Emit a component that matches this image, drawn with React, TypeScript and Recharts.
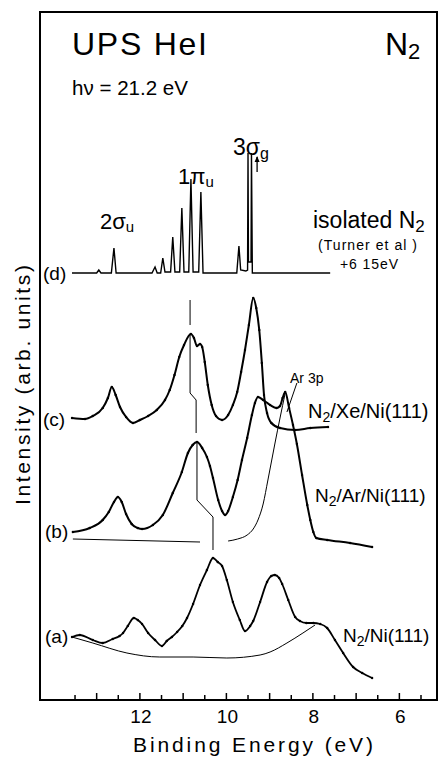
import React from "react";
import { LineChart, Line, XAxis, YAxis, ReferenceArea } from "recharts";

const FONT = "'Liberation Sans', Arial, sans-serif";

// binding energy axis (eV), drawn high -> low
const X_DOMAIN: [number, number] = [5.13, 14.31];
const TICKS = [13.5, 13, 12.5, 12, 11.5, 11, 10.5, 10, 9.5, 9, 8.5, 8, 7.5, 7, 6.5, 6, 5.5];
const TICK_LABELS = [12, 10, 8, 6];

// [binding energy eV, intensity arb. units]
const specD: [number, number][] = [
  [13.57, 427], [13.0, 427], [12.95, 430], [12.9, 427], [12.66, 427], [12.6, 452], [12.55, 427],
  [11.72, 427], [11.65, 433], [11.6, 427], [11.52, 427], [11.47, 442], [11.42, 428], [11.29, 428],
  [11.24, 463], [11.19, 428], [11.08, 428], [11.03, 492], [10.98, 428], [10.87, 428], [10.82, 521],
  [10.77, 428], [10.64, 428], [10.59, 508], [10.54, 427], [9.76, 427], [9.71, 454], [9.67, 430],
  [9.55, 429], [9.51, 430], [9.5, 547], [9.49, 438], [9.43, 438], [9.42, 547], [9.4, 427], [7.6, 427],
];

const specC: [number, number][] = [
  [13.57, 282], [13.27, 281], [13.09, 284], [12.86, 292], [12.74, 302], [12.65, 313], [12.56, 305],
  [12.46, 293], [12.32, 283], [12.16, 277], [12.0, 280], [11.81, 284], [11.61, 290], [11.42, 300],
  [11.31, 310], [11.2, 325], [11.09, 343], [10.98, 355], [10.82, 366], [10.75, 362], [10.68, 354],
  [10.61, 356], [10.56, 353], [10.5, 338], [10.43, 315], [10.34, 295], [10.24, 284], [10.1, 280],
  [9.96, 285], [9.85, 295], [9.75, 308], [9.66, 328], [9.57, 350], [9.48, 375], [9.38, 402],
  [9.31, 392], [9.24, 370], [9.18, 337], [9.13, 305], [9.06, 287], [8.96, 277], [8.76, 272],
  [8.41, 270], [8.06, 272], [7.65, 273],
];

const specB: [number, number][] = [
  [13.55, 168], [13.16, 172], [12.86, 180], [12.72, 188], [12.6, 198], [12.51, 203], [12.42, 198],
  [12.32, 186], [12.19, 176], [12.05, 172], [11.95, 171], [11.7, 175], [11.47, 185], [11.24, 207],
  [11.03, 228], [10.89, 247], [10.78, 255], [10.68, 258], [10.56, 252], [10.45, 243], [10.38, 234],
  [10.31, 222], [10.19, 200], [10.1, 189], [10.03, 185], [9.96, 189], [9.85, 203], [9.74, 220],
  [9.64, 240], [9.52, 262], [9.41, 285], [9.34, 297], [9.27, 303], [9.15, 300], [8.99, 295],
  [8.84, 292], [8.76, 294], [8.7, 302], [8.64, 308], [8.55, 292], [8.46, 275], [8.37, 256],
  [8.25, 225], [8.13, 195], [8.06, 180], [7.99, 168], [7.92, 162], [7.67, 160], [7.14, 157], [6.63, 153],
];

const specA: [number, number][] = [
  [13.57, 63], [13.39, 65], [13.09, 60], [12.86, 57], [12.63, 61], [12.47, 64], [12.39, 67],
  [12.28, 74], [12.14, 82], [12.05, 80], [11.95, 76], [11.81, 67], [11.65, 60], [11.49, 54],
  [11.38, 59], [11.26, 63], [11.14, 68], [11.02, 74], [10.91, 82], [10.77, 96], [10.61, 115],
  [10.45, 130], [10.31, 142], [10.2, 138], [10.1, 134], [9.99, 120], [9.85, 98], [9.69, 80],
  [9.57, 69], [9.45, 74], [9.38, 79], [9.22, 98], [9.06, 118], [8.96, 124], [8.88, 125], [8.78, 122],
  [8.71, 116], [8.57, 100], [8.41, 83], [8.3, 79], [8.15, 77], [7.99, 77], [7.83, 76], [7.67, 72],
  [7.49, 60], [7.3, 47], [7.07, 33], [6.86, 27], [6.63, 22],
];

// thin guide curves
const baseB: [number, number][] = [[13.55, 161], [10.61, 158]];
const ar3p: [number, number][] = [
  [9.96, 159], [9.74, 161], [9.52, 165], [9.38, 171], [9.27, 180], [9.15, 196], [9.04, 220],
  [8.96, 238], [8.88, 256], [8.76, 282], [8.64, 307],
];
const baseA: [number, number][] = [
  [13.57, 63], [13.09, 57], [12.3, 47], [11.54, 43], [10.77, 43], [9.99, 42], [9.22, 45],
  [8.99, 48], [8.6, 57], [8.23, 67], [7.95, 75],
];
const tieLine: [number, number | null][] = [
  [10.84, 400], [10.84, 375], [10.84, null],
  [10.84, 366], [10.84, 307], [10.7, 300], [10.7, 267], [10.69, null],
  [10.68, 257], [10.68, 200], [10.31, 183], [10.31, 150],
];
const arPointer: [number, number][] = [[8.37, 317], [8.6, 288]];
const sigmaArrow: [number, number][] = [[9.29, 528], [9.29, 543]];

const toRows = (pts: [number, number | null][]) => pts.map(([e, i]) => ({ e, i }));

function EnergyTick(props: any) {
  const { x, y, payload } = props;
  const v = payload.value as number;
  const major = Math.abs(v - Math.round(v)) < 1e-6;
  return (
    <g>
      <line x1={x} x2={x} y1={y} y2={y - (major ? 7 : 5)} stroke="#000" strokeWidth={1.5} />
      {TICK_LABELS.includes(v) && (
        <text x={x + 1} y={y + 23} textAnchor="middle" fontSize={19} fontFamily={FONT} fill="#000">
          {v}
        </text>
      )}
    </g>
  );
}

function ArrowHead(props: any) {
  const { cx, cy, index } = props;
  if (index !== 1) return <g key={index} />;
  return <path key={index} d={`M${cx - 2.5},${cy + 5} L${cx},${cy - 1} L${cx + 2.5},${cy + 5} Z`} fill="#000" />;
}

const dotStyle = { r: 1.2, fill: "#000", stroke: "none" };

export default function App() {
  const sub = (t: string, size = 15, dy = 5) => (
    <tspan fontSize={size} dy={dy}>{t}</tspan>
  );
  return (
    <div style={{ position: "absolute", left: 0, top: 0, width: 438, height: 759, background: "#fff" }}>
      <LineChart width={438} height={759} margin={{ top: 12, right: 1, bottom: 0, left: 40 }}>
        <XAxis
          type="number"
          dataKey="e"
          domain={X_DOMAIN}
          reversed
          ticks={TICKS}
          interval={0}
          tick={(p: any) => <EnergyTick {...p} />}
          tickSize={0}
          tickMargin={0}
          tickLine={false}
          axisLine={false}
          height={59}
          allowDataOverflow
        />
        <YAxis type="number" domain={[0, 688]} hide allowDataOverflow />
        <ReferenceArea x1={X_DOMAIN[0]} x2={X_DOMAIN[1]} y1={0} y2={688} fill="none" stroke="#000" strokeWidth={2} ifOverflow="visible" />
        <Line data={toRows(specD)} dataKey="i" type="linear" stroke="#000" strokeWidth={1.4} dot={false} isAnimationActive={false} />
        <Line data={toRows(specC)} dataKey="i" type="monotone" stroke="#000" strokeWidth={2} dot={dotStyle} isAnimationActive={false} />
        <Line data={toRows(specB)} dataKey="i" type="monotone" stroke="#000" strokeWidth={2} dot={dotStyle} isAnimationActive={false} />
        <Line data={toRows(specA)} dataKey="i" type="monotone" stroke="#000" strokeWidth={1.8} dot={dotStyle} isAnimationActive={false} />
        <Line data={toRows(baseB)} dataKey="i" type="linear" stroke="#000" strokeWidth={1} dot={false} isAnimationActive={false} />
        <Line data={toRows(ar3p)} dataKey="i" type="monotone" stroke="#000" strokeWidth={1} dot={false} isAnimationActive={false} />
        <Line data={toRows(baseA)} dataKey="i" type="monotone" stroke="#000" strokeWidth={1} dot={false} isAnimationActive={false} />
        <Line data={toRows(tieLine)} dataKey="i" type="linear" stroke="#000" strokeWidth={1} dot={false} isAnimationActive={false} />
        <Line data={toRows(arPointer)} dataKey="i" type="linear" stroke="#000" strokeWidth={1} dot={false} isAnimationActive={false} />
        <Line data={toRows(sigmaArrow)} dataKey="i" type="linear" stroke="#000" strokeWidth={1.3} dot={(p: any) => <ArrowHead {...p} />} isAnimationActive={false} />
      </LineChart>
      <svg width={438} height={759} style={{ position: "absolute", left: 0, top: 0, pointerEvents: "none" }} fontFamily={FONT} fill="#000">
        <text x={72} y={55} fontSize={32} textLength={135} lengthAdjust="spacing">UPS HeI</text>
        <text x={385} y={55} fontSize={32}>N{sub("2", 22, 4)}</text>
        <text x={72} y={95} fontSize={20} textLength={116} lengthAdjust="spacingAndGlyphs">hν = 21.2 eV</text>
        <text x={233} y={155} fontSize={23}>3σ{sub("g", 16, 4)}</text>
        <text x={178} y={184} fontSize={22}>1π{sub("u", 15, 3)}</text>
        <text x={100} y={229} fontSize={22}>2σ{sub("u", 15, 3)}</text>
        <text x={313} y={228} fontSize={23}>isolated N{sub("2", 17, 4)}</text>
        <text x={318} y={250} fontSize={14} textLength={99} lengthAdjust="spacing">(Turner et al )</text>
        <text x={340} y={269} fontSize={14} textLength={58} lengthAdjust="spacing">+6 15eV</text>
        <text x={43} y={280} fontSize={19}>(d)</text>
        <text x={43} y={426} fontSize={19}>(c)</text>
        <text x={45} y={538} fontSize={19}>(b)</text>
        <text x={45} y={643} fontSize={19}>(a)</text>
        <text x={290} y={383} fontSize={14}>Ar 3p</text>
        <text x={308} y={418} fontSize={20}>N{sub("2", 14, 4)}<tspan dy={-4}>/Xe/Ni(111)</tspan></text>
        <text x={315} y={502} fontSize={19}>N{sub("2", 14, 4)}<tspan dy={-4}>/Ar/Ni(111)</tspan></text>
        <text x={343} y={642} fontSize={19}>N{sub("2", 14, 4)}<tspan dy={-4}>/Ni(111)</tspan></text>
        <text x={133} y={752} fontSize={21} textLength={240} lengthAdjust="spacing">Binding Energy (eV)</text>
        <text transform="translate(30,505) rotate(-90)" fontSize={21} textLength={240} lengthAdjust="spacing">Intensity (arb. units)</text>
      </svg>
    </div>
  );
}
